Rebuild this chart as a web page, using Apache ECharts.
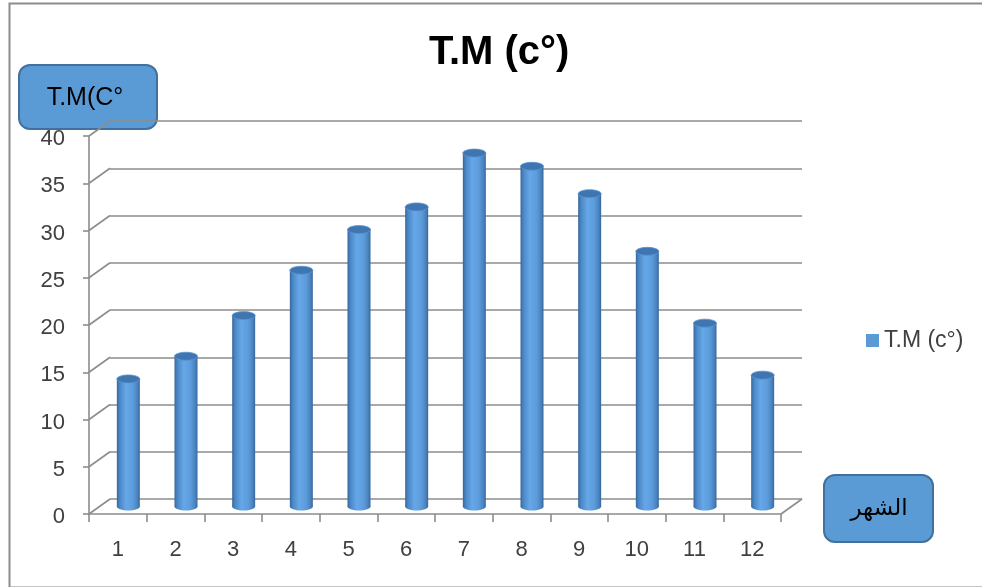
<!DOCTYPE html>
<html>
<head>
<meta charset="utf-8">
<style>
  html, body { margin: 0; padding: 0; background: #ffffff; }
  #chart { width: 982px; height: 587px; }
</style>
<script src="https://cdn.jsdelivr.net/npm/echarts@6/dist/echarts.min.js"></script>
</head>
<body>
<div id="chart"></div>
<script>
// Monthly mean temperature, months 1..12
const months = ['1', '2', '3', '4', '5', '6', '7', '8', '9', '10', '11', '12'];
const tempMean = [13.5, 15.9, 20.2, 25.0, 29.3, 31.7, 37.4, 36.0, 33.1, 27.0, 19.4, 13.9];
const yTicks = [0, 5, 10, 15, 20, 25, 30, 35, 40];
const seriesName = 'T.M (c°)';

// depth of the pseudo-3D box (back wall offset from the front axes)
const DX = 21, DY = -15;
const GRID_COLOR = '#8c8c8c';
const FONT = 'Liberation Sans, Arial, sans-serif';

const chart = echarts.init(document.getElementById('chart'), null, { renderer: 'canvas' });

// cylinder standing halfway into the floor depth
function renderCylinder(params, api) {
  const i = api.value(0);
  const v = api.value(1);
  const base = api.coord([i, 0]);
  const top = api.coord([i, v]);
  const cx = base[0] + DX / 2;
  const yb = base[1] + DY / 2;
  const yt = top[1] + DY / 2;
  const w = 23, rx = w / 2, ry = 4;
  const body = new echarts.graphic.LinearGradient(0, 0, 1, 0, [
    { offset: 0, color: '#36669b' },
    { offset: 0.12, color: '#4a86c4' },
    { offset: 0.4, color: '#66a7e8' },
    { offset: 0.7, color: '#5c9cdc' },
    { offset: 0.9, color: '#4a82bd' },
    { offset: 1, color: '#36669b' }
  ]);
  return {
    type: 'group',
    children: [
      { type: 'ellipse', shape: { cx: cx, cy: yb, rx: rx, ry: ry }, style: { fill: body } },
      { type: 'rect', shape: { x: cx - rx, y: yt, width: w, height: yb - yt }, style: { fill: body } },
      { type: 'ellipse', shape: { cx: cx, cy: yt, rx: rx, ry: ry },
        style: { fill: '#3f76b2', stroke: '#5a95d2', lineWidth: 0.8 } }
    ]
  };
}

// side-wall diagonals joining the front axis ticks to the back wall, plus the floor corner
function renderDepth(params, api) {
  const cs = params.coordSys;
  const v = api.value(0);
  const y = api.coord([0, v])[1];
  const children = [{
    type: 'line',
    shape: { x1: cs.x, y1: y, x2: cs.x + DX, y2: y + DY },
    style: { stroke: GRID_COLOR, lineWidth: 1.6 }
  }];
  if (v === 0) {
    children.push({
      type: 'line',
      shape: { x1: cs.x + cs.width, y1: y, x2: cs.x + cs.width + DX, y2: y + DY },
      style: { stroke: GRID_COLOR, lineWidth: 1.6 }
    });
  }
  return { type: 'group', children: children };
}

const frontGrid = { left: 89, right: 201, top: 136, bottom: 73 };
const backGrid = {
  left: frontGrid.left + DX, right: frontGrid.right - DX,
  top: frontGrid.top + DY, bottom: frontGrid.bottom - DY
};

const option = {
  backgroundColor: '#ffffff',
  animation: false,
  title: {
    text: seriesName,
    left: 424,
    top: 28,
    textStyle: { fontFamily: FONT, fontSize: 40, fontWeight: 'bold', color: '#000000' }
  },
  legend: {
    data: [seriesName],
    left: 861,
    top: 324,
    icon: 'rect',
    itemWidth: 13,
    itemHeight: 13,
    itemGap: 6,
    textStyle: { fontFamily: FONT, fontSize: 23, color: '#404040' }
  },
  grid: [
    Object.assign({ containLabel: false }, backGrid),
    Object.assign({ containLabel: false }, frontGrid)
  ],
  xAxis: [
    { gridIndex: 0, type: 'category', data: months, show: false },
    {
      gridIndex: 1, type: 'category', data: months, boundaryGap: true,
      axisLine: { show: true, lineStyle: { color: GRID_COLOR, width: 1.6 } },
      axisTick: { show: true, length: 8, interval: 0, lineStyle: { color: GRID_COLOR, width: 1.6 } },
      axisLabel: { interval: 0, margin: 25, fontFamily: FONT, fontSize: 22, color: '#404040' },
      splitLine: { show: false }
    }
  ],
  yAxis: [
    {
      gridIndex: 0, type: 'value', min: 0, max: 40, interval: 5,
      axisLine: { show: false }, axisTick: { show: false }, axisLabel: { show: false },
      splitLine: { show: true, lineStyle: { color: GRID_COLOR, width: 1.6 } }
    },
    {
      gridIndex: 1, type: 'value', min: 0, max: 40, interval: 5,
      axisLine: { show: true, lineStyle: { color: GRID_COLOR, width: 1.6 } },
      axisTick: { show: true, length: 6, lineStyle: { color: GRID_COLOR, width: 1.6 } },
      axisLabel: {
        margin: 24, verticalAlign: 'top', lineHeight: 6,
        fontFamily: FONT, fontSize: 22, color: '#404040'
      },
      splitLine: { show: false }
    }
  ],
  series: [
    {
      name: 'depth',
      type: 'custom',
      xAxisIndex: 1,
      yAxisIndex: 1,
      silent: true,
      z: 1,
      renderItem: renderDepth,
      data: yTicks.map(function (t) { return [t]; }),
      encode: { y: 0 }
    },
    {
      name: seriesName,
      type: 'custom',
      xAxisIndex: 1,
      yAxisIndex: 1,
      z: 5,
      itemStyle: { color: '#5b9bd5' },
      renderItem: renderCylinder,
      data: tempMean.map(function (v, i) { return [i, v]; }),
      encode: { x: 0, y: 1 }
    }
  ],
  graphic: [
    {
      type: 'rect', left: 7, top: 1, z: 0, silent: true,
      shape: { width: 990, height: 584 },
      style: { fill: 'none', stroke: GRID_COLOR, lineWidth: 2 }
    },
    {
      type: 'group', left: 18, top: 64, z: 10,
      children: [
        { type: 'rect', shape: { x: 0, y: 0, width: 138, height: 64, r: 11 },
          style: { fill: '#5b9bd5', stroke: '#41719c', lineWidth: 2 } },
        { type: 'text', x: 66, y: 33,
          style: { text: 'T.M(C°', fill: '#000000', font: '25px ' + FONT, align: 'center', verticalAlign: 'middle' } }
      ]
    },
    {
      type: 'group', left: 823, top: 474, z: 10,
      children: [
        { type: 'rect', shape: { x: 0, y: 0, width: 109, height: 67, r: 11 },
          style: { fill: '#5b9bd5', stroke: '#41719c', lineWidth: 2 } },
        { type: 'text', x: 55, y: 34,
          style: { text: 'الشهر', fill: '#000000', font: '23px DejaVu Sans, sans-serif', align: 'center', verticalAlign: 'middle' } }
      ]
    }
  ]
};

chart.setOption(option);
</script>
</body>
</html>
